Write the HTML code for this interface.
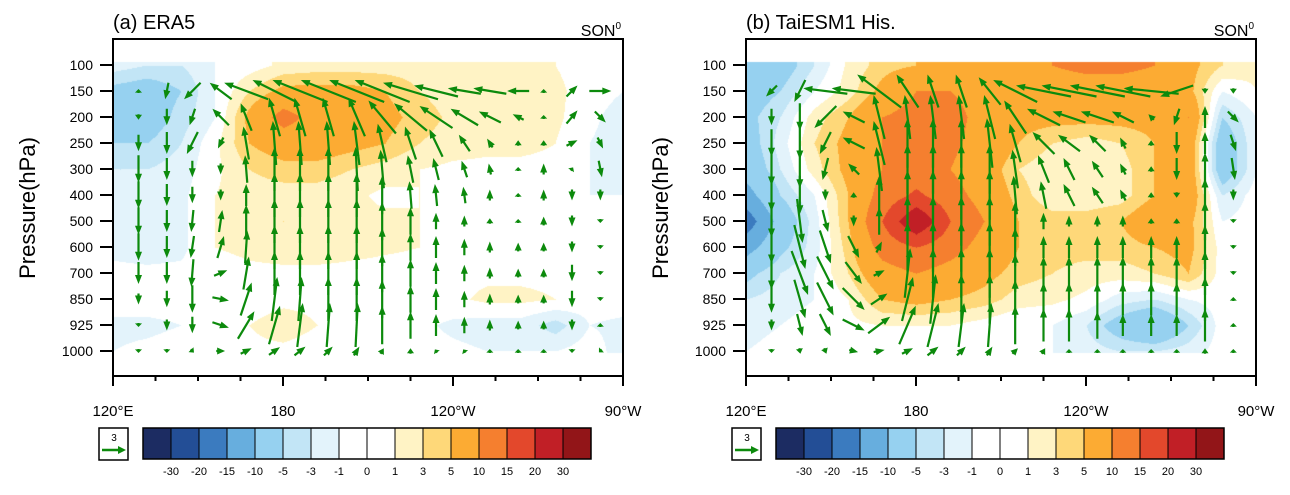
<!DOCTYPE html>
<html><head><meta charset="utf-8"><style>
body{margin:0;background:#fff;width:1290px;height:495px;overflow:hidden;position:relative;font-family:"Liberation Sans",sans-serif}
canvas{position:absolute}
svg{position:absolute;left:0;top:0}
</style></head><body>
<canvas id="ca" width="510" height="337" style="left:113px;top:39px"></canvas>
<canvas id="cb" width="510" height="337" style="left:746px;top:39px"></canvas>
<svg id="sv" width="1290" height="495"></svg>
<script>
const levels=[100,150,200,250,300,400,500,600,700,850,925,1000];
const contourLons=[120,132,144,156,168,180,192,204,216,228,240,252,264,276,288,300];
const vecLons=[129,139,148,158,167,177,186,196,206,215,225,234,244,253,263,272,282,292];
const vecLevels=[150,200,250,300,400,500,600,700,850,925,1000];
const bounds=[-30,-20,-15,-10,-5,-3,-1,0,1,3,5,10,15,20,30];
const colors=["#1c2c62","#234e96","#3b7bbf","#67aede","#96d1f0","#c2e5f6","#e3f3fb","#ffffff","#ffffff","#fff3c5","#fed879","#fcab33","#f57f2f","#e3482c","#c11f26","#921518"];
const fieldA=[
[-2,-3,-3,-1,0,1.5,2,2,2,2,1.5,1.5,1.5,1,0,-1],
[-6,-7,-5,-1,3,6,6,6,5,3,2,2,1.5,1.5,0,-1],
[-6,-7,-4,-1,6,12,8,7,6,4,2.5,2,1.5,1.5,-0.5,-2],
[-5,-5,-3,0.5,5,7,7,6,5,3,2,1.5,1.5,1,-1,-2],
[-3,-3,-2,0.5,3,4,4,3,2,1,0.5,0.5,0.5,0.5,-1,-1.5],
[-2,-2,-1.5,1,2,2,2,1.5,0.5,1,0.5,0.5,0.5,0.5,-1,-1],
[-1.5,-2,-1.5,1,1.5,3,2,1.5,1.5,1,0.5,0.5,0.5,0.5,-0.5,-0.5],
[-1.5,-2,-1.5,1,1.5,2,2,1.5,1.2,1,0.5,0.5,0.5,0.5,-0.5,-0.5],
[-0.5,-0.5,-0.5,0,0.5,0.5,0.5,0.5,0.5,0.5,0.5,0.5,0.5,0.5,0,0],
[0,0,0,0,0,0.5,0.5,0.5,0.5,0.5,0.5,1.5,1.5,1,0,0],
[-1.5,-1.5,-1,0,1,2,1,0.5,0,-0.5,-1.5,-2,-2,-4,-1,-1.5],
[-1,-0.5,0,0,0.5,0.5,0,0,0,0,-0.5,-1,-1,-1,0,-2]];
const fieldB=[
[-10,-7,-3,1.5,4,5,5,5,5,10,12,12,10,6,3,1.5],
[-7,-5,-1,2,6,10,10,8,6,6,6,6,6,6,-1,1],
[-6,-3,2,5,10,12,12,8,6,6,6,6,6,10,-5,-1],
[-7,-2,3,6,10,12,11,8,5,3,2,3,5,8,-8,-1],
[-8,-3,2,6,10,12,10,7,3,1.5,1.5,2,5,8,-8,-1],
[-12,-5,-1,5,12,16,12,8,4,1.5,1.5,2,5,8,-3,0],
[-18,-8,-2,5,15,25,15,10,5,4,4,5,8,6,-1,0],
[-12,-6,-2,4,12,15,12,8,5,4,4,4,5,6,0,0],
[-6,-3,-1,3,8,10,8,6,4,3,2,2,3,5,0,0],
[-3,-2,-1,1,5,6,5,4,2,1.5,0.5,-2,-3,-1,0,0],
[-2,-1,0,0.5,1,1,1,0,-1,-1,-3,-7,-10,-5,0,0],
[-1,0,0,0,0,0,0,0,-0.5,-1,-2,-3,-3,-2,0,0]];
const uA=[
[0,-0.3,-1.5,-2,-4,-4,-5,-5,-5,-5,-5,-4,-3,-3,-2,0,1,2],
[0,0,-0.5,-1.5,-1,-1,-1,-1,-1.5,-2.5,-3,-3,-2.5,-2,-1,0,1,1],
[0,0,-1,-0.5,-0.5,-0.3,-0.3,-0.3,-0.5,-0.8,-1,-1.2,-1,-0.5,0,0,1,0.5],
[0,0,0,0,-0.2,0,0,0,-0.2,-0.3,-0.5,-0.5,-0.5,-0.2,0,0,0.2,0.3],
[0,0,0,0,0,0,0,0,0,0,-0.2,-0.2,-0.2,0,0,0,0,0],
[0,0,-0.2,0.3,0,0,0,0,0,0,0,0,0,0,0,0,0,0],
[0,0,-0.3,0.6,0.2,0,0,0,0,0,0,0,0,0,0,0,0,0],
[0,0,-0.2,1.2,0.5,0,0,0,0,0,0,0,0,0,0,0,0,0],
[0,0,0,1.5,1,0.5,0.3,0,0,0,0,0,0,0,0,0,0,0],
[0,0,0,1.5,1.5,1,0.5,0.3,0.2,0,0,0,0,0,0,0,0,0],
[0,0,0.3,0.8,1,1,1,0.8,0.5,0.3,0,-0.2,-0.2,0,0,0,0,-0.2]];
const wA=[
[0.2,-1.5,-1.5,1.5,1.5,2,2,2,2,2,1.5,1,0.5,0.5,0,0.3,1,0],
[-0.5,-1.5,-1.5,1.5,2.5,3.5,3.5,3.5,3.5,3,2.5,2,1.5,1,0.5,0.3,1.2,-1],
[-1.5,-2,-2,-1,3,4,4,4,4,3.5,3,2.5,1.5,0.8,0.5,0.5,0.5,-1],
[-2.5,-2,-1.5,-1,2.5,4,4,4,4,3.5,2.5,2,1.5,1,0.3,1,0.3,-1.5],
[-2.5,-2,-1.5,-1,2,4,4,4,4,3.5,2.5,2,1.5,1,0.3,1,-1,-1],
[-2.5,-2,-2,2,3,4,4,4,4,3.5,2.5,1.5,1,0.5,0.3,0.8,-1,-0.3],
[-2.5,-2,-2,2,3,4,4,4,4,3.5,2.5,2,1.5,1,0.8,0.8,-1,-0.3],
[-2,-2,-2.5,0.5,3,4,4,4,4,3.5,2.5,2,1.5,1,0.8,0.8,-1.5,-0.3],
[-1,-1.5,-2.5,-0.3,3,4,4,4,4,3.5,2.5,2,1.5,1,0.8,0.8,-1.5,-0.2],
[-0.3,-1,-1.5,-0.5,2.5,3.5,4,4,4,3.5,2.5,2,1.5,1,0.8,0.8,-1,0.2],
[-0.2,-0.2,-0.3,0,0.5,0.7,0.8,0.8,0.8,0.5,0.5,0.3,0.3,0.2,0.2,0.2,-0.3,-0.2]];
const uB=[
[-1,-1,-4,-4,-4,-2,-1,-1,-2,-4,-5,-5,-5,-5,-5,-3,0,0],
[0,0,-2,-2,-1,-0.5,-0.5,-0.5,-1,-2,-3,-3,-3,-2,-0.5,-0.5,0,1],
[0,0,-1,-2,-1,0,0,0,-0.5,-1,-2,-2,-1.5,-0.5,0,0,0,0.5],
[0,0,-0.5,-1,-0.5,0,0,0,0,-0.5,-1,-1,-1,-0.5,0,0,0,0.3],
[0,0,0,0,0,0,0,0,0,-0.3,-0.5,-1,-1,-0.5,0,0,0,0],
[0,0.5,0.5,0,0,0,0,0,0,0,0,0,0,0,0,0,0,0],
[0,1,1,1,0.5,0,0,0,0,0,0,0,0,0,0,0,0,0],
[0,1.5,1.5,1.5,1,0.5,0,0,0,0,0,0,0,0,0,0,0,0],
[0,1,1.5,2,1.5,1,0.5,0,0,0,0,0,0,0,0,0,0,0],
[0,0.5,1,2,2,1.5,1,0.5,0.3,0,0,0,0,0,0,0,0,0],
[0,0.1,0.2,0.8,1,1,1,0.8,0.5,0.5,0.3,0,0,0,0,0,0,0]];
const wB=[
[-1,-2,0.5,0.5,3,3,3,3,2.5,2,1,1,1,1,0.5,-1,-0.5,-0.5],
[-1.5,-2.5,-2,1,4,4,4,4,4,3,1.5,1,1,1,0.5,-1.5,2,-1],
[-2.5,-3,-2,1,4,4.5,4.5,4.5,4.5,3.5,2,1.5,1.5,1,0.5,-2,2,-1.5],
[-3,-3.5,-2,1,4,4.5,4.5,4.5,4.5,3.5,2.5,2,1.5,1,0.5,-2,3,-2],
[-3,-3.5,-1,0.5,3.5,4.5,4.5,4.5,4.5,3.5,2.5,2,1.5,1,0.5,-0.5,3,-1],
[-3,-4,-2,-1,2.5,4.5,4.5,4.5,4.5,3.5,1.5,1,1,1,0.5,0.5,3.5,-0.3],
[-3,-4,-3,-2,1,4.5,4.5,4.5,4.5,3.5,2,2,2,2,2,2,4,-0.2],
[-3,-4,-3,-2,0.5,4.5,4.5,4.5,4.5,3.5,3,3,3,3,3,3,4,-0.2],
[-2.5,-3.5,-3,-2,1,4,4.5,4.5,4.5,3.5,3,3,3,3,3,3,4,0.2],
[-1,-2,-2,-1,1.5,3.5,4,4,4,3.5,3,3,2.5,2,2,2,3,0.2],
[-0.3,-0.5,-0.5,-0.2,0.2,0.5,0.8,0.8,0.8,0.5,0.5,0.3,0.2,0.2,0.2,0.2,0.5,0.1]];
const cbLabels=["-30","-20","-15","-10","-5","-3","-1","0","1","3","5","10","15","20","30"];
const yLabels=["100","150","200","250","300","400","500","600","700","850","925","1000"];
const xTickLabels=[["120°E",120],["180",180],["120°W",240],["90°W",300]];

const PW=510, TOP=39, BOT=376;
function xs(lon){return (lon-120)/180*PW;}
function lvIdx(p){return levels.indexOf(p);}
function ys(p){return 65+26*lvIdx(p);}
const NS="http://www.w3.org/2000/svg";
const sv=document.getElementById('sv');
function el(tag,attrs,parent){const e=document.createElementNS(NS,tag);for(const k in attrs)e.setAttribute(k,attrs[k]);(parent||sv).appendChild(e);return e;}
function colorOf(v){let i=0;for(const b of bounds)if(v>=b)i++;return colors[i];}
function hex(c){return [parseInt(c.substr(1,2),16),parseInt(c.substr(3,2),16),parseInt(c.substr(5,2),16)];}

function drawField(id,field){
  const cv=document.getElementById(id),ctx=cv.getContext('2d');
  const img=ctx.createImageData(cv.width,cv.height);
  const step=xs(contourLons[1])-xs(contourLons[0]);
  for(let py=0;py<cv.height;py++){
    const Y=py+TOP;
    const r=(Y-65)/26;
    for(let px=0;px<cv.width;px++){
      let v=0;
      if(r>=-0.15&&r<=11.05){
        const rr=Math.max(0,Math.min(11,r));
        const c=Math.max(0,Math.min(15,px/step));
        const r0=Math.min(10,Math.floor(rr)),c0=Math.min(14,Math.floor(c));
        const fr=rr-r0,fc=c-c0;
        v=field[r0][c0]*(1-fr)*(1-fc)+field[r0][c0+1]*(1-fr)*fc+field[r0+1][c0]*fr*(1-fc)+field[r0+1][c0+1]*fr*fc;
      }
      const col=hex(colorOf(v));const o=(py*cv.width+px)*4;
      img.data[o]=col[0];img.data[o+1]=col[1];img.data[o+2]=col[2];img.data[o+3]=255;
    }
  }
  ctx.putImageData(img,0,0);
}
drawField('ca',fieldA);drawField('cb',fieldB);

function panel(ox,title,u,w,tag){
  const g=el('g',{});
  
  
  const S=11;
  for(let i=0;i<vecLevels.length;i++)for(let j=0;j<vecLons.length;j++){
    const cx=ox+xs(vecLons[j]),cy=ys(vecLevels[i]);
    let dx=u[i][j]*S,dy=-w[i][j]*S;let L=Math.hypot(dx,dy);
    if(L<4){const a=L>0?Math.atan2(dy,dx):-Math.PI/2;dx=4*Math.cos(a);dy=4*Math.sin(a);L=4;}
    const x0=cx-dx/2,y0=cy-dy/2,x1=cx+dx/2,y1=cy+dy/2;
    const ux=dx/L,uy=dy/L,h=Math.min(9,L*0.9),hw=3.5;
    const a=el('g',{},g);
    
    
    el('line',{x1:x0,y1:y0,x2:x1-ux*h*0.6,y2:y1-uy*h*0.6,stroke:'#0c8a0c','stroke-width':2.2},a);
    el('polygon',{points:`${x1},${y1} ${x1-ux*h-uy*hw},${y1-uy*h+ux*hw} ${x1-ux*h+uy*hw},${y1-uy*h-ux*hw}`,fill:'#0c8a0c'},a);
  }
  const f=el('rect',{x:ox,y:TOP,width:PW,height:BOT-TOP,fill:'none',stroke:'#000','stroke-width':2},g);
  
  
  yLabels.forEach((t,k)=>{const y=65+26*k;
    el('line',{x1:ox-13,y1:y,x2:ox,y2:y,stroke:'#000','stroke-width':2},g);
    const tx=el('text',{x:ox-20,y:y+5,'text-anchor':'end','font-size':14,fill:'#000'},g);tx.textContent=t;
    
    });
  for(let k=0;k<=12;k++){const lon=120+15*k;const x=ox+xs(lon);const major=[120,180,240,300].includes(lon);
    el('line',{x1:x,y1:BOT,x2:x,y2:BOT+(major?10:5),stroke:'#000','stroke-width':2},g);}
  xTickLabels.forEach(([t,lon])=>{const tx=el('text',{x:ox+xs(lon),y:416,'text-anchor':'middle','font-size':15,fill:'#000'},g);tx.textContent=t;
    
    });
  const yt=el('text',{transform:`translate(${ox-78},208) rotate(-90)`,'text-anchor':'middle','font-size':22,fill:'#000'},g);yt.textContent='Pressure(hPa)';
  
  
  const tt=el('text',{x:ox,y:29,'font-size':20,fill:'#000'},g);tt.textContent=title;
  
  
  const sn=el('text',{x:ox+PW-2,y:36,'text-anchor':'end','font-size':16,fill:'#000'},g);sn.innerHTML='SON<tspan dy="-7" font-size="10">0</tspan>';
  
  
  const rv=el('g',{},g);
  
  
  el('rect',{x:ox-14,y:428,width:29,height:32,fill:'#fff',stroke:'#000','stroke-width':1.5},rv);
  const r3=el('text',{x:ox+1,y:441,'text-anchor':'middle','font-size':10},rv);r3.textContent='3';
  el('line',{x1:ox-11,y1:450,x2:ox+7,y2:450,stroke:'#0c8a0c','stroke-width':2.5},rv);
  el('polygon',{points:`${ox+13},450 ${ox+5},446 ${ox+5},454`,fill:'#0c8a0c'},rv);
  const cb=el('g',{},g);
  
  
  colors.forEach((c,i)=>{el('rect',{x:ox+30+28*i,y:428,width:28,height:31,fill:c,stroke:'#000','stroke-width':1},cb);});
  el('rect',{x:ox+30,y:428,width:448,height:31,fill:'none',stroke:'#000','stroke-width':1.5},cb);
  cbLabels.forEach((t,i)=>{const tx=el('text',{x:ox+30+28*(i+1),y:475,'text-anchor':'middle','font-size':11},cb);tx.textContent=t;
    
    });
}
panel(113,'(a) ERA5',uA,wA,'era5');
panel(746,'(b) TaiESM1 His.',uB,wB,'taiesm1');
</script>
</body></html>
